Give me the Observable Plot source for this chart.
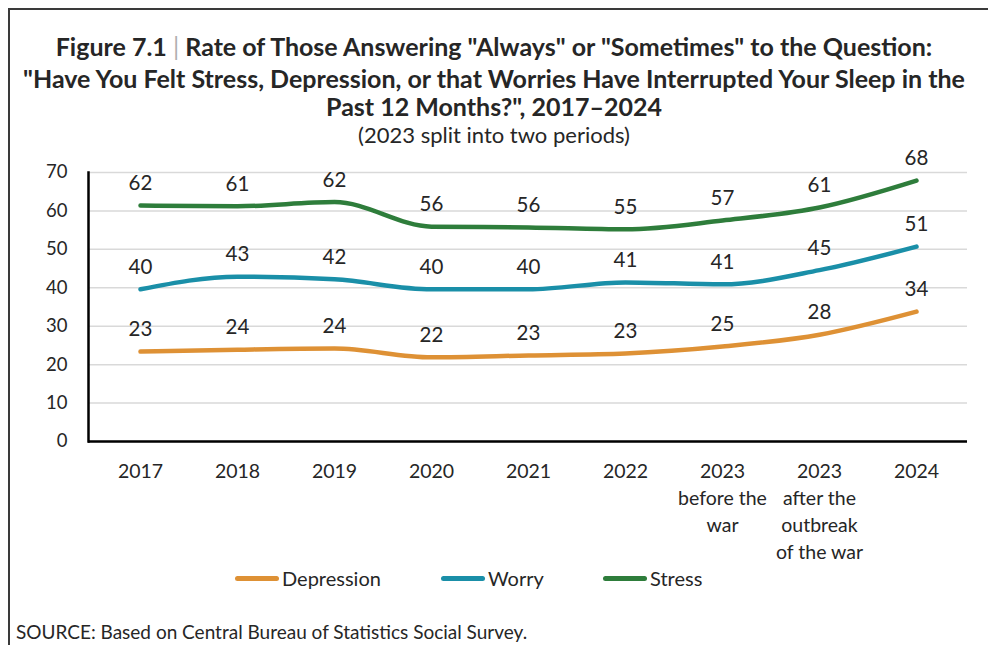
<!DOCTYPE html>
<html>
<head>
<meta charset="utf-8">
<script src="https://cdn.jsdelivr.net/npm/d3@7"></script>
<script src="https://cdn.jsdelivr.net/npm/@observablehq/plot@0.6"></script>
<style>
  html, body { margin: 0; padding: 0; background: #fff; }
  #wrap { position: relative; width: 988px; height: 645px; overflow: hidden; font-family: Lato, "Open Sans", sans-serif; color: #262626; }
  #frame { position: absolute; left: 8px; top: 8px; width: 990px; height: 660px; border-left: 2px solid #3a3a3a; border-top: 2px solid #3a3a3a; }
  .t { position: absolute; left: 0; width: 988px; text-align: center; white-space: nowrap; }
  .title { font-weight: bold; font-size: 25px; line-height: 30px; }
  .sep { color: #b0b0b0; font-weight: normal; }
  #chart { position: absolute; left: 0; top: 130px; }
  #legend { position: absolute; top: 565px; left: 0; width: 988px; height: 26px; }
  .li { position: absolute; top: 0; font-size: 20px; line-height: 26px; }
  .sw { position: absolute; top: 11px; height: 4.5px; border-radius: 3px; }
  #source { position: absolute; left: 16px; top: 620px; font-size: 19px; line-height: 24px; }
</style>
</head>
<body>
<div id="wrap">
  <div id="frame"></div>
  <div class="t title" style="top:31px">Figure 7.1 <span class="sep">|</span> Rate of Those Answering "Always" or "Sometimes" to the Question:</div>
  <div class="t title" style="top:63px">"Have You Felt Stress, Depression, or that Worries Have Interrupted Your Sleep in the</div>
  <div class="t title" style="top:91px">Past 12 Months?", 2017–2024</div>
  <div class="t" style="top:121px; font-size:22px; line-height:27px">(2023 split into two periods)</div>
  <div id="chart"></div>
  <div id="legend"></div>
  <div id="source">SOURCE: Based on Central Bureau of Statistics Social Survey.</div>
</div>
<script>
const categories = ["2017", "2018", "2019", "2020", "2021", "2022", "2023\nbefore the\nwar", "2023\nafter the\noutbreak\nof the war", "2024"];
const seriesNames = ["Depression", "Worry", "Stress"];
const seriesColors = ["#DE9135", "#1A8FA8", "#2E7D3B"];
const depression = [23.4, 23.9, 24.2, 21.9, 22.4, 22.9, 24.7, 27.8, 33.8];
const worry = [39.6, 42.9, 42.2, 39.6, 39.6, 41.4, 40.9, 44.6, 50.7];
const stress = [61.4, 61.2, 62.3, 55.9, 55.7, 55.2, 57.5, 60.9, 67.9];
const depressionLabels = [23, 24, 24, 22, 23, 23, 25, 28, 34];
const worryLabels = [40, 43, 42, 40, 40, 41, 41, 45, 51];
const stressLabels = [62, 61, 62, 56, 56, 55, 57, 61, 68];
const yTicks = [0, 10, 20, 30, 40, 50, 60, 70];

const valueSets = [depression, worry, stress];
const labelSets = [depressionLabels, worryLabels, stressLabels];
const rows = [];
seriesNames.forEach((s, i) => {
  categories.forEach((c, j) => {
    rows.push({series: s, category: c, value: valueSets[i][j], label: labelSets[i][j]});
  });
});

const chart = Plot.plot({
  width: 988,
  height: 440,
  marginLeft: 88,
  marginRight: 21,
  marginTop: 42,
  marginBottom: 129,
  style: {fontFamily: "Lato, 'Open Sans', sans-serif", background: "transparent", color: "#262626"},
  x: {type: "point", domain: categories, padding: 0.5},
  y: {domain: [0, 70]},
  color: {domain: seriesNames, range: seriesColors},
  marks: [
    Plot.gridY(yTicks, {stroke: "#d9d9d9", strokeOpacity: 1, strokeWidth: 1.5}),
    Plot.axisY(yTicks, {tickSize: 0, tickPadding: 21, fontSize: 18.5, label: null, fill: "#262626"}),
    Plot.axisX({tickSize: 0, tickPadding: 18, fontSize: 19.5, label: null, lineHeight: 1.37, fill: "#262626", tickFormat: d => d}),
    Plot.line(rows, {x: "category", y: "value", z: "series", stroke: "series", strokeWidth: 4.5, curve: "monotone-x", strokeLinecap: "round"}),
    Plot.text(rows, {x: "category", y: "value", text: "label", dy: -22, fontSize: 20.5, fill: "#262626"}),
    Plot.ruleY([0], {stroke: "#000", strokeWidth: 2.5}),
    Plot.frame({anchor: "left", stroke: "#000", strokeWidth: 2.5})
  ]
});
document.getElementById("chart").appendChild(chart);

const legend = document.getElementById("legend");
const legendPos = [235, 441, 603];
seriesNames.forEach((s, i) => {
  const sw = document.createElement("div");
  sw.className = "sw";
  sw.style.left = legendPos[i] + "px";
  sw.style.width = "44px";
  sw.style.background = seriesColors[i];
  legend.appendChild(sw);
  const t = document.createElement("div");
  t.className = "li";
  t.style.left = (legendPos[i] + 47) + "px";
  t.textContent = s;
  legend.appendChild(t);
});
</script>
</body>
</html>
